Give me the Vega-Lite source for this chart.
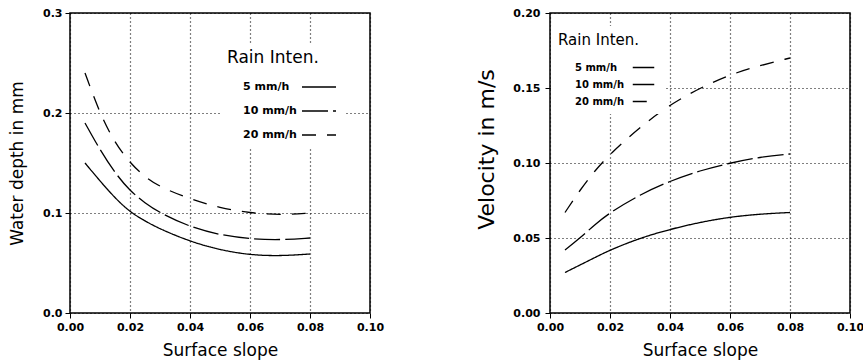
{
  "$schema": "https://vega.github.io/schema/vega-lite/v6.json",
  "padding": {"left": 7, "top": 6, "right": 2, "bottom": 5},
  "background": "white",
  "spacing": 90,
  "datasets": {
    "depth": [
      {"slope": 0.005, "value": 0.150, "intensity": "5 mm/h"},
      {"slope": 0.010, "value": 0.132, "intensity": "5 mm/h"},
      {"slope": 0.015, "value": 0.115, "intensity": "5 mm/h"},
      {"slope": 0.020, "value": 0.101, "intensity": "5 mm/h"},
      {"slope": 0.025, "value": 0.092, "intensity": "5 mm/h"},
      {"slope": 0.030, "value": 0.084, "intensity": "5 mm/h"},
      {"slope": 0.040, "value": 0.0715, "intensity": "5 mm/h"},
      {"slope": 0.050, "value": 0.063, "intensity": "5 mm/h"},
      {"slope": 0.060, "value": 0.058, "intensity": "5 mm/h"},
      {"slope": 0.070, "value": 0.057, "intensity": "5 mm/h"},
      {"slope": 0.080, "value": 0.059, "intensity": "5 mm/h"},
      {"slope": 0.005, "value": 0.190, "intensity": "10 mm/h"},
      {"slope": 0.010, "value": 0.163, "intensity": "10 mm/h"},
      {"slope": 0.015, "value": 0.140, "intensity": "10 mm/h"},
      {"slope": 0.020, "value": 0.122, "intensity": "10 mm/h"},
      {"slope": 0.025, "value": 0.110, "intensity": "10 mm/h"},
      {"slope": 0.030, "value": 0.100, "intensity": "10 mm/h"},
      {"slope": 0.040, "value": 0.086, "intensity": "10 mm/h"},
      {"slope": 0.050, "value": 0.078, "intensity": "10 mm/h"},
      {"slope": 0.060, "value": 0.074, "intensity": "10 mm/h"},
      {"slope": 0.070, "value": 0.073, "intensity": "10 mm/h"},
      {"slope": 0.080, "value": 0.075, "intensity": "10 mm/h"},
      {"slope": 0.005, "value": 0.240, "intensity": "20 mm/h"},
      {"slope": 0.010, "value": 0.199, "intensity": "20 mm/h"},
      {"slope": 0.015, "value": 0.170, "intensity": "20 mm/h"},
      {"slope": 0.020, "value": 0.150, "intensity": "20 mm/h"},
      {"slope": 0.025, "value": 0.136, "intensity": "20 mm/h"},
      {"slope": 0.030, "value": 0.126, "intensity": "20 mm/h"},
      {"slope": 0.040, "value": 0.114, "intensity": "20 mm/h"},
      {"slope": 0.050, "value": 0.105, "intensity": "20 mm/h"},
      {"slope": 0.060, "value": 0.100, "intensity": "20 mm/h"},
      {"slope": 0.070, "value": 0.098, "intensity": "20 mm/h"},
      {"slope": 0.080, "value": 0.100, "intensity": "20 mm/h"}
    ],
    "velocity": [
      {"slope": 0.005, "value": 0.027, "intensity": "5 mm/h"},
      {"slope": 0.010, "value": 0.032, "intensity": "5 mm/h"},
      {"slope": 0.015, "value": 0.037, "intensity": "5 mm/h"},
      {"slope": 0.020, "value": 0.042, "intensity": "5 mm/h"},
      {"slope": 0.030, "value": 0.050, "intensity": "5 mm/h"},
      {"slope": 0.040, "value": 0.0558, "intensity": "5 mm/h"},
      {"slope": 0.050, "value": 0.0605, "intensity": "5 mm/h"},
      {"slope": 0.060, "value": 0.064, "intensity": "5 mm/h"},
      {"slope": 0.070, "value": 0.066, "intensity": "5 mm/h"},
      {"slope": 0.080, "value": 0.067, "intensity": "5 mm/h"},
      {"slope": 0.005, "value": 0.042, "intensity": "10 mm/h"},
      {"slope": 0.010, "value": 0.050, "intensity": "10 mm/h"},
      {"slope": 0.015, "value": 0.059, "intensity": "10 mm/h"},
      {"slope": 0.020, "value": 0.067, "intensity": "10 mm/h"},
      {"slope": 0.030, "value": 0.079, "intensity": "10 mm/h"},
      {"slope": 0.040, "value": 0.088, "intensity": "10 mm/h"},
      {"slope": 0.050, "value": 0.095, "intensity": "10 mm/h"},
      {"slope": 0.060, "value": 0.100, "intensity": "10 mm/h"},
      {"slope": 0.070, "value": 0.104, "intensity": "10 mm/h"},
      {"slope": 0.080, "value": 0.106, "intensity": "10 mm/h"},
      {"slope": 0.005, "value": 0.067, "intensity": "20 mm/h"},
      {"slope": 0.010, "value": 0.082, "intensity": "20 mm/h"},
      {"slope": 0.015, "value": 0.095, "intensity": "20 mm/h"},
      {"slope": 0.020, "value": 0.106, "intensity": "20 mm/h"},
      {"slope": 0.030, "value": 0.124, "intensity": "20 mm/h"},
      {"slope": 0.040, "value": 0.139, "intensity": "20 mm/h"},
      {"slope": 0.050, "value": 0.150, "intensity": "20 mm/h"},
      {"slope": 0.060, "value": 0.159, "intensity": "20 mm/h"},
      {"slope": 0.070, "value": 0.165, "intensity": "20 mm/h"},
      {"slope": 0.080, "value": 0.170, "intensity": "20 mm/h"}
    ]
  },
  "resolve": {"scale": {"strokeDash": "independent"}, "legend": {"strokeDash": "independent"}},
  "hconcat": [
    {
      "width": 300,
      "height": 300,
      "data": {"name": "depth"},
      "mark": {"type": "line", "color": "black", "strokeWidth": 1.3, "interpolate": "basis"},
      "encoding": {
        "x": {"field": "slope", "type": "quantitative", "title": "Surface slope",
              "scale": {"domain": [0, 0.1], "nice": false},
              "axis": {"values": [0, 0.02, 0.04, 0.06, 0.08, 0.1], "format": ".2f"}},
        "y": {"field": "value", "type": "quantitative", "title": "Water depth in mm",
              "scale": {"domain": [0, 0.3], "nice": false},
              "axis": {"values": [0, 0.1, 0.2, 0.3], "format": ".1f", "titlePadding": 16}},
        "strokeDash": {"field": "intensity", "type": "nominal",
              "scale": {"domain": ["5 mm/h", "10 mm/h", "20 mm/h"], "range": [[1, 0], [26, 5], [14, 11]]},
              "legend": {"orient": "none", "legendX": 150, "legendY": 30, "title": "Rain Inten.",
                         "padding": 7, "fillColor": "white", "titleFontSize": 17, "titlePadding": 2,
                         "labelFontSize": 11, "symbolSize": 1156, "symbolOffset": 74, "labelOffset": -94,
                         "rowPadding": 1}}
      }
    },
    {
      "width": 300,
      "height": 300,
      "data": {"name": "velocity"},
      "mark": {"type": "line", "color": "black", "strokeWidth": 1.3, "interpolate": "basis"},
      "encoding": {
        "x": {"field": "slope", "type": "quantitative", "title": "Surface slope",
              "scale": {"domain": [0, 0.1], "nice": false},
              "axis": {"values": [0, 0.02, 0.04, 0.06, 0.08, 0.1], "format": ".2f"}},
        "y": {"field": "value", "type": "quantitative", "title": "Velocity in m/s",
              "scale": {"domain": [0, 0.2], "nice": false},
              "axis": {"values": [0, 0.05, 0.1, 0.15, 0.2], "format": ".2f", "titleFontSize": 22,
                       "titlePadding": 14, "labelPadding": 5, "titleY": 136}},
        "strokeDash": {"field": "intensity", "type": "nominal",
              "scale": {"domain": ["5 mm/h", "10 mm/h", "20 mm/h"], "range": [[1, 0], [26, 5], [14, 11]]},
              "legend": {"orient": "none", "legendX": 1, "legendY": 13, "title": "Rain Inten.",
                         "padding": 7, "fillColor": "white", "titleFontSize": 15, "titlePadding": 8,
                         "labelFontSize": 10, "symbolSize": 462, "symbolOffset": 74, "labelOffset": -80,
                         "rowPadding": 0}}
      }
    }
  ],
  "config": {
    "view": {"stroke": "black", "strokeWidth": 1.5},
    "line": {"strokeCap": "butt"},
    "axis": {
      "domain": false,
      "tickColor": "black", "tickSize": 5, "tickWidth": 1,
      "labelFont": "DejaVu Sans", "labelFontWeight": "bold", "labelFontSize": 11, "labelColor": "black",
      "labelFlush": false, "labelPadding": 3,
      "titleFont": "DejaVu Sans", "titleFontWeight": "normal", "titleFontSize": 17, "titleColor": "black",
      "titlePadding": 10,
      "gridColor": "black", "gridDash": [1, 3], "gridWidth": 1.2, "gridOpacity": 1
    },
    "legend": {
      "symbolType": "stroke", "symbolStrokeColor": "black", "symbolStrokeWidth": 1.5,
      "titleFont": "DejaVu Sans", "titleFontWeight": "normal", "titleColor": "black",
      "labelFont": "DejaVu Sans", "labelFontWeight": "bold", "labelColor": "black",
      "strokeColor": null
    }
  }
}
